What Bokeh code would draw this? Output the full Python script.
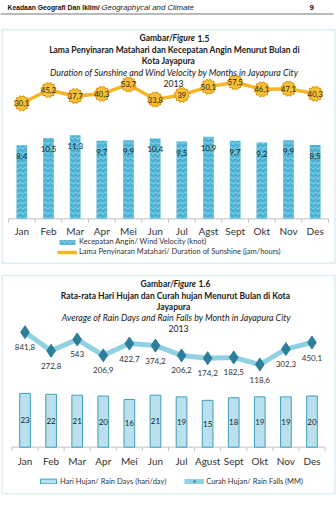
from math import pi, log10
from bokeh.plotting import figure
from bokeh.models import (Range1d, FactorRange, LogScale, Label, BoxAnnotation, Legend, LegendItem)
from bokeh.layouts import column
from bokeh.embed import file_html
from bokeh.resources import INLINE
from bokeh.core.properties import value

# ---------------- data ----------------
months1 = ["Jan", "Feb", "Mar", "Apr", "Mei", "Jun", "Jul", "Agst", "Sept", "Okt", "Nov", "Des"]
wind_velocity = [8.4, 10.5, 11.3, 9.7, 9.9, 10.4, 9.5, 10.9, 9.7, 9.2, 9.9, 8.5]
sunshine = [30.1, 45.2, 37.7, 40.3, 53.7, 33.8, 39, 50.1, 57.5, 46.1, 47.1, 40.3]

months2 = ["Jan", "Feb", "Mar", "Apr", "Mei", "Jun", "Jul", "Agust", "Sept", "Okt", "Nov", "Des"]
rain_days = [23, 22, 21, 20, 16, 21, 19, 15, 18, 19, 19, 20]
rain_falls = [841.8, 272.8, 543, 206.9, 422.7, 374.2, 206.2, 174.2, 182.5, 118.6, 302.3, 450.1]


def fmt(v):
    return f"{v:g}".replace(".", ",")


FONT = "Lato"
BOX_COLOR = "#8ec6d6"
TXT = "#1a1a1a"
AXIS_COLOR = "#c4c4c4"


def lin_range(v_at, px_at, px_per_unit, height):
    """Range whose value v_at falls at canvas pixel px_at (from top)."""
    return Range1d(v_at - (height - px_at) / px_per_unit, v_at + px_at / px_per_unit)


def log_range(v_at, px_at, px_per_decade, height):
    lv = log10(v_at)
    return Range1d(10 ** (lv - (height - px_at) / px_per_decade), 10 ** (lv + px_at / px_per_decade))


def lab(p, x, y, text, size, style="normal", align="center", color=TXT, font=FONT):
    p.add_layout(Label(x=x, y=y, x_units="canvas", y_units="canvas", text=text,
                       text_font=font, text_font_size=f"{size}px", text_font_style=style,
                       text_align=align, text_baseline="middle", text_color=color))


def box(p, left, right, top, bottom, color=BOX_COLOR, width=1.5, fill=None):
    b = BoxAnnotation(left=left, right=right, top=top, bottom=bottom,
                      left_units="canvas", right_units="canvas",
                      top_units="canvas", bottom_units="canvas",
                      line_color=color if fill is None else None, line_width=width,
                      fill_color=fill, fill_alpha=1 if fill else 0, level="overlay")
    p.add_layout(b)


def base_fig(months, height, pad, yr):
    p = figure(width=336, height=height,
               x_range=FactorRange(*months, range_padding=pad, range_padding_units="percent"),
               y_range=yr, x_axis_location=None, y_axis_location=None,
               toolbar_location=None, output_backend="svg",
               min_border_left=0, min_border_right=0, min_border_top=0, min_border_bottom=0)
    p.xgrid.visible = False
    p.ygrid.visible = False
    p.outline_line_color = None
    return p


def cat_axis(p, months, base, ppu, label_offset):
    edges = [(m, -0.5) for m in months] + [(months[-1], 0.5)]
    p.segment(x0=[edges[0]], x1=[edges[-1]], y0=[base], y1=[base],
              line_color=AXIS_COLOR, line_width=1)
    p.segment(x0=edges, x1=edges, y0=[base] * len(edges), y1=[base - 4 / ppu] * len(edges),
              line_color=AXIS_COLOR, line_width=1)
    p.text(x=months, y=[base] * len(months), text=months, y_offset=label_offset,
           text_align="center", text_baseline="middle",
           text_font=value(FONT), text_font_size="10px", text_color="#333333")


# ---------------- figure 1 ----------------
H1 = 268
W1_BASE = -12.9
W1_PPU = 3.45
p1 = base_fig(months1, H1, 0.05, lin_range(W1_BASE, 218.3, W1_PPU, H1))
p1.extra_y_ranges = {"sun": log_range(30.1, 102.8, 75, H1)}
p1.extra_y_scales = {"sun": LogScale()}

cat_axis(p1, months1, W1_BASE, W1_PPU, 12.4)

bars1 = p1.vbar(x=months1, top=wind_velocity, bottom=W1_BASE, width=0.4,
                fill_color="#4cb2d3", line_color=None,
                hatch_pattern="horizontal_wave", hatch_color="#9fd9ea",
                hatch_scale=5, hatch_weight=1)
p1.text(x=months1, y=wind_velocity, text=[fmt(v) for v in wind_velocity],
        y_offset=11, text_align="center", text_baseline="middle",
        text_font=value(FONT), text_font_size="8px", text_color="#222222")

line1 = p1.line(x=months1, y=sunshine, y_range_name="sun", line_color="#f6b626", line_width=3.5)
for ang in (0, pi / 6, pi / 3):
    p1.scatter(x=months1, y=sunshine, y_range_name="sun", marker="square", size=11, angle=ang,
               fill_color="#f9c033", line_color="#d98e12", line_width=1)
for ang in (0, pi / 6, pi / 3):
    p1.scatter(x=months1, y=sunshine, y_range_name="sun", marker="square", size=10, angle=ang,
               fill_color="#f9c033", line_color=None)
p1.text(x=months1, y=sunshine, y_range_name="sun", text=[fmt(v) for v in sunshine],
        text_align="center", text_baseline="middle",
        text_font=value(FONT), text_font_size="7.5px", text_color="#222222")

leg1 = Legend(items=[LegendItem(label="Kecepatan Angin/ Wind Velocity (knot)", renderers=[bars1]),
                     LegendItem(label="Lama Penyinaran Matahari/ Duration of Sunshine (jam/hours)", renderers=[line1])],
              location=(57, 11.5), orientation="vertical", glyph_width=20, glyph_height=6,
              label_height=10, label_text_font=FONT, label_text_font_size="7.5px",
              label_text_color="#333333", label_standoff=2, spacing=0, padding=0, margin=0,
              border_line_color=None, background_fill_alpha=0)
p1.add_layout(leg1)

# header and frame box
lab(p1, 7, 6.5, "Keadaan Geografi Dan Iklim/", 6.8, "bold", "left", "#111111", "Liberation Sans")
lab(p1, 101, 6.5, "Geographycal and Climate", 7.8, "italic", "left", "#222222", "Liberation Sans")
lab(p1, 309, 6.5, "9", 8, "bold", "left", "#111111", "Liberation Sans")
box(p1, 0, 333, 13, 14, fill="#777777")
box(p1, 1.5, 334.5, 29.3, 262.7)

lab(p1, 139, 37.6, "Gambar/", 8.5, "bold", "left")
lab(p1, 172, 37.6, "Figure", 8.5, "bold italic", "left")
lab(p1, 197, 37.6, "1.5", 8.5, "bold", "left")
lab(p1, 174, 49.3, "Lama Penyinaran Matahari dan Kecepatan Angin Menurut Bulan di", 8.5, "bold")
lab(p1, 168, 60.8, "Kota Jayapura", 8.5, "bold")
lab(p1, 174, 71.5, "Duration of Sunshine and Wind Velocity by Months in Jayapura City", 8.9, "italic")
lab(p1, 173, 82.6, "2013", 8.7, "normal")

# ---------------- figure 2 ----------------
H2 = 240
R_BASE = -39.5
R_PPU = 0.86
p2 = base_fig(months2, H2, 0.0733, lin_range(R_BASE, 178.7, R_PPU, H2))
p2.extra_y_ranges = {"rain": log_range(841.8, 63.7, 38, H2)}
p2.extra_y_scales = {"rain": LogScale()}

cat_axis(p2, months2, R_BASE, R_PPU, 14)

bars2 = p2.vbar(x=months2, top=rain_days, bottom=R_BASE, width=0.41,
                fill_color="#b9e0ec", line_color="#3f9fbd", line_width=1)
p2.text(x=months2, y=[(v + R_BASE) / 2 for v in rain_days], text=[fmt(v) for v in rain_days],
        text_align="center", text_baseline="middle",
        text_font=value(FONT), text_font_size="8px", text_color="#222222")

line2 = p2.line(x=months2, y=rain_falls, y_range_name="rain", line_color="#8fd0e3", line_width=5)
small2 = p2.scatter(x=months2, y=rain_falls, y_range_name="rain", marker="diamond", size=5,
                    fill_color="#2c7e9a", line_color="#2c7e9a")
pts2 = p2.scatter(x=months2, y=rain_falls, y_range_name="rain", marker="diamond", size=13,
                  fill_color="#2c7e9a", line_color="#2c7e9a")
p2.text(x=months2, y=rain_falls, y_range_name="rain", text=[fmt(v) for v in rain_falls],
        y_offset=15, text_align="center", text_baseline="middle",
        text_font=value(FONT), text_font_size="8px", text_color="#333333")

leg2 = Legend(items=[LegendItem(label="Hari Hujan/ Rain Days (hari/day)", renderers=[bars2]),
                     LegendItem(label="Curah Hujan/ Rain Falls (MM)", renderers=[line2, small2])],
              location=(38, 22), orientation="horizontal", glyph_width=20, glyph_height=6,
              label_height=10, label_text_font=FONT, label_text_font_size="7.5px",
              label_text_color="#333333", label_standoff=2, spacing=18, padding=0, margin=0,
              border_line_color=None, background_fill_alpha=0)
p2.add_layout(leg2)

box(p2, 1.5, 334.5, 7, 225.3)
lab(p2, 140, 15.3, "Gambar/", 8.5, "bold", "left")
lab(p2, 173, 15.3, "Figure", 8.5, "bold italic", "left")
lab(p2, 198, 15.3, "1.6", 8.5, "bold", "left")
lab(p2, 177, 27, "Rata-rata  Hari Hujan dan Curah hujan Menurut Bulan di  Kota", 8.5, "bold")
lab(p2, 173, 38.5, "Jayapura", 8.5, "bold")
lab(p2, 177, 48.7, "Average of  Rain Days and Rain Falls by Month in Jayapura City", 8.9, "italic")
lab(p2, 178, 60.3, "2013", 8.7, "normal")

layout = column(p1, p2, spacing=0)
open("out.html", "w").write(file_html(layout, INLINE))
